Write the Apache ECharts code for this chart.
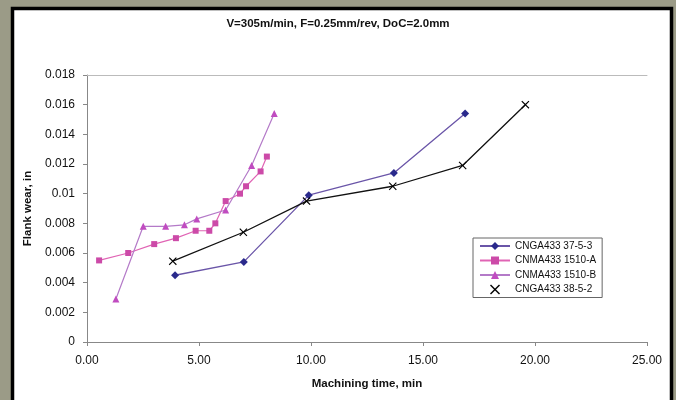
<!DOCTYPE html>
<html>
<head>
<meta charset="utf-8">
<script src="https://cdn.jsdelivr.net/npm/echarts@6/dist/echarts.min.js"></script>
<style>
  html, body { margin: 0; padding: 0; background: #9b9b87; }
  #chart { width: 676px; height: 400px; }
</style>
</head>
<body>
<div id="chart"></div>
<script>
// machining time (min) / flank wear (in)
var ga3753X = [3.93, 7.0, 9.9, 13.7, 16.88];
var ga3753Y = [0.0045, 0.0054, 0.0099, 0.0114, 0.0154];

var ma1510aX = [0.54, 1.84, 3.0, 3.97, 4.85, 5.46, 5.73, 6.19, 6.83, 7.1, 7.75, 8.03];
var ma1510aY = [0.0055, 0.006, 0.0066, 0.007, 0.0075, 0.0075, 0.008, 0.0095, 0.01, 0.0105, 0.0115, 0.0125];

var ma1510bX = [1.29, 2.51, 3.51, 4.35, 4.9, 6.19, 7.35, 8.36];
var ma1510bY = [0.0029, 0.0078, 0.0078, 0.0079, 0.0083, 0.0089, 0.0119, 0.0154];

var ga3852X = [3.83, 6.98, 9.8, 13.65, 16.77, 19.57];
var ga3852Y = [0.00545, 0.0074, 0.0095, 0.0105, 0.0119, 0.016];

var seriesNames = ['CNGA433 37-5-3', 'CNMA433 1510-A', 'CNMA433 1510-B', 'CNGA433 38-5-2'];

var crossPath = 'path://M0,1L1,0L5,4L9,0L10,1L6,5L10,9L9,10L5,6L1,10L0,9L4,5Z';

function pairs(xs, ys){
    var out = [];
    for(var i = 0; i < xs.length; i++){
        out.push([xs[i], ys[i]]);
    }
    return out;
}

var myChart = echarts.init(document.getElementById('chart'));

var option = {
    backgroundColor: '#9b9b87',
    animation: false,
    textStyle: { fontFamily: 'Liberation Sans, Arial, sans-serif' },
    graphic: [{
        type: 'rect',
        z: -10,
        silent: true,
        shape: { x: 12.5, y: 8.5, width: 659, height: 400 },
        style: { fill: '#ffffff', stroke: '#000000', lineWidth: 3.5 }
    }],
    title: {
        text: 'V=305m/min, F=0.25mm/rev, DoC=2.0mm',
        left: 'center',
        top: 13,
        textStyle: { fontSize: 11.5, fontWeight: 'bold', color: '#111' }
    },
    grid: { left: 87, right: 29, top: 75, bottom: 58 },
    legend: {
        orient: 'vertical',
        left: 473,
        top: 238,
        width: 133,
        padding: [3, 6, 3, 6],
        itemGap: 4.5,
        itemWidth: 30,
        itemHeight: 10,
        borderColor: '#666',
        borderWidth: 1,
        backgroundColor: '#fff',
        textStyle: { fontSize: 10, color: '#111' },
        data: [
            seriesNames[0],
            seriesNames[1],
            seriesNames[2],
            { name: seriesNames[3], icon: crossPath, itemStyle: { color: '#000' } }
        ]
    },
    xAxis: [{
        type: 'value',
        min: 0,
        max: 25,
        interval: 5,
        name: 'Machining time, min',
        nameLocation: 'middle',
        nameGap: 36,
        nameTextStyle: { fontSize: 11.5, fontWeight: 'bold', color: '#111' },
        axisLine: { lineStyle: { color: '#888' } },
        axisTick: { show: true, length: 4, lineStyle: { color: '#888' } },
        axisLabel: {
            fontSize: 12, color: '#111', margin: 13,
            formatter: function(v){ return v.toFixed(2); }
        },
        splitLine: { show: false }
    }, {
        type: 'value',
        position: 'top',
        min: 0,
        max: 25,
        axisLine: { show: true, lineStyle: { color: '#bbb' } },
        axisTick: { show: false },
        axisLabel: { show: false },
        splitLine: { show: false }
    }],
    yAxis: {
        type: 'value',
        min: 0,
        max: 0.018,
        interval: 0.002,
        name: 'Flank wear, in',
        nameLocation: 'middle',
        nameGap: 52,
        nameTextStyle: { fontSize: 11.5, fontWeight: 'bold', color: '#111' },
        axisLine: { show: true, lineStyle: { color: '#888' } },
        axisTick: { show: true, length: 4, lineStyle: { color: '#888' } },
        axisLabel: { fontSize: 12, color: '#111', margin: 12 },
        splitLine: { show: false }
    },
    series: [
        {
            name: seriesNames[0],
            type: 'line',
            symbol: 'diamond',
            symbolSize: 8,
            itemStyle: { color: '#2a2a8c' },
            lineStyle: { color: '#6a55a8', width: 1.3 },
            data: pairs(ga3753X, ga3753Y)
        },
        {
            name: seriesNames[1],
            type: 'line',
            symbol: 'rect',
            symbolSize: 6,
            itemStyle: { color: '#cc4aa8' },
            lineStyle: { color: '#e064b4', width: 1.2 },
            data: pairs(ma1510aX, ma1510aY)
        },
        {
            name: seriesNames[2],
            type: 'line',
            symbol: 'triangle',
            symbolSize: 7,
            itemStyle: { color: '#c04cc0' },
            lineStyle: { color: '#b47ac8', width: 1.2 },
            data: pairs(ma1510bX, ma1510bY)
        },
        {
            name: seriesNames[3],
            type: 'line',
            symbol: crossPath,
            symbolSize: 8,
            itemStyle: { color: '#000' },
            lineStyle: { color: '#111', width: 1.3 },
            data: pairs(ga3852X, ga3852Y)
        }
    ]
};

myChart.setOption(option);
</script>
</body>
</html>
